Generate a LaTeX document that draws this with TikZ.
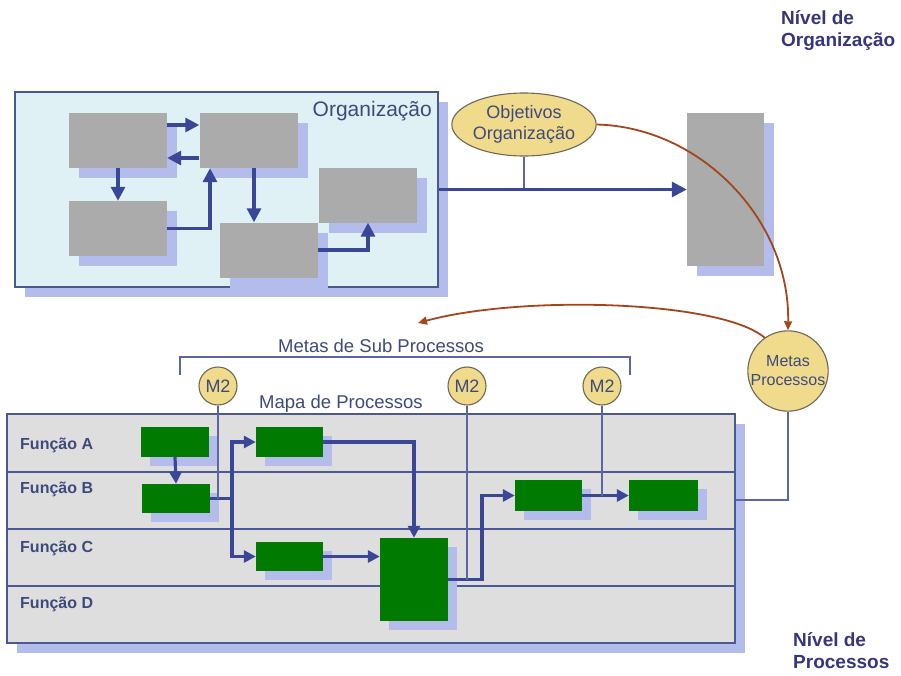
\documentclass[tikz,border=0pt]{standalone}
\usepackage{fontspec}
\setmainfont{Liberation Sans}
\usetikzlibrary{shapes.geometric,shadows,arrows.meta}

\definecolor{orgfill}{HTML}{DFF1F4}
\definecolor{frame}{HTML}{4B5891}
\definecolor{shade}{HTML}{B3BCEA}
\definecolor{boxgray}{HTML}{ABABAB}
\definecolor{flow}{HTML}{3A4796}
\definecolor{mapfill}{HTML}{DEDEDE}
\definecolor{task}{HTML}{007A00}
\definecolor{goal}{HTML}{F0DA8C}
\definecolor{goalline}{HTML}{6F6856}
\definecolor{link}{HTML}{5B66A3}
\definecolor{rust}{HTML}{A2471D}
\definecolor{ink}{HTML}{3F4A7C}
\definecolor{heading}{HTML}{35367E}

\newcommand{\fsz}[1]{\fontsize{#1}{1.2\dimexpr#1pt\relax}\selectfont}

\begin{document}
\begin{tikzpicture}[x=1pt,y=-1pt,
  shadowed/.style={drop shadow={shadow xshift=#1,shadow yshift=-#1,fill=shade,opacity=1}},
  panel/.style={draw=frame,line width=1.3pt,inner sep=0pt,shadowed=10pt},
  graybox/.style={fill=boxgray,inner sep=0pt,minimum width=98pt,minimum height=55pt,shadowed=10pt},
  taskbox/.style={fill=task,inner sep=0pt,shadowed=9pt},
  flowarrow/.style={draw=flow,line width=3.2pt,-{Triangle[length=14pt,width=14pt]}},
  flowline/.style={draw=flow,line width=3.2pt},
  thin/.style={draw=link,line width=1.4pt},
  goalshape/.style={fill=goal,draw=goalline,line width=1.1pt,text=ink,inner sep=0pt},
  feedback/.style={draw=rust,line width=1.8pt,-{Triangle[length=9pt,width=8pt]}},
  lane/.style={text=ink,font=\fsz{16}\bfseries,anchor=base west,inner sep=0pt},
  caption/.style={text=ink,font=\fsz{18.5},inner sep=0pt},
  level/.style={text=heading,font=\fsz{19}\bfseries,align=left,inner sep=0pt,anchor=north west}
]
\useasboundingbox (0,0) rectangle (901,675);

% ---------- organisation level ----------
\node[panel,fill=orgfill,minimum width=423pt,minimum height=195pt] (org) at (226.5,189.5) {};
\node[caption,font=\fsz{21},anchor=base east] (orglabel) at (432,116.5) {Organização};

\node[graybox] (b1) at (118,140.5) {};
\node[graybox] (b2) at (248.5,140.5) {};
\node[graybox] (b3) at (118,228.5) {};
\node[graybox] (b4) at (269,250) {};
\node[graybox] (b5) at (367.5,195) {};

\draw[flowarrow] (b1.east |- 0,125) -- (b2.west |- 0,125);
\draw[flowarrow] (b2.west |- 0,158) -- (b1.east |- 0,158);
\draw[flowarrow] (b1.south) -- (b3.north);
\draw[flowarrow] (b3.east) -| (b2.south -| 210,0);
\draw[flowarrow] (b2.south -| 254,0) -- (b4.north -| 254,0);
\draw[flowarrow] (b4.east) -| (b5.south -| 368,0);

\node[graybox,minimum width=77pt,minimum height=153pt] (bigbox) at (725.5,189.5) {};

\node[goalshape,ellipse,minimum width=132pt,minimum height=63pt,align=center,
      font=\fontsize{18}{21}\selectfont] (obj) at (524,124.5) {Objetivos\\Organização};

\draw[thin,line width=1.6pt] (obj.south) -- (obj.south |- org.east);
\draw[flowarrow,-{Triangle[length=15pt,width=15pt]}] (org.east) -- (bigbox.west);

% ---------- process goals ----------
\node[goalshape,circle,minimum size=66pt,align=center,
      font=\fontsize{16}{19}\selectfont] (mp) at (788,371) {Metas\\Processos};

\draw[feedback] (obj.east) .. controls (700,127) and (790,219) .. (mp.north);
\coordinate (subtip) at (418,323);
\draw[feedback] (mp.125) .. controls (720,300) and (520,295) .. (subtip);

% bracket over the sub-process goals
\draw[thin] (180,375) -- (180,357) -- (630,357) -- (630,375);
\node[caption,anchor=base west] (subgoals) at (278,352.7) {Metas de Sub Processos};

\node[goalshape,circle,minimum size=38pt,font=\fsz{18}] (m2a) at (218,386) {M2};
\node[goalshape,circle,minimum size=38pt,font=\fsz{18}] (m2b) at (467,386) {M2};
\node[goalshape,circle,minimum size=38pt,font=\fsz{18}] (m2c) at (602,386) {M2};

% ---------- process map ----------
\node[caption,anchor=base west] (maplabel) at (259,408) {Mapa de Processos};
\node[panel,fill=mapfill,minimum width=728pt,minimum height=229pt] (pm) at (371,528.5) {};
\foreach \yy in {472,529,586}
  \draw[draw=frame,line width=1.3pt] (pm.west |- 0,\yy) -- (pm.east |- 0,\yy);

\node[lane] (fa) at (20,449) {Função A};
\node[lane] (fb) at (20,493) {Função B};
\node[lane] (fc) at (20,552) {Função C};
\node[lane] (fd) at (20,608) {Função D};

\node[taskbox,minimum width=68pt,minimum height=30pt] (g1) at (175,442) {};
\node[taskbox,minimum width=68pt,minimum height=29pt] (g2) at (176,498.5) {};
\node[taskbox,minimum width=67pt,minimum height=30pt] (g3) at (289.5,442) {};
\node[taskbox,minimum width=67pt,minimum height=29pt] (g4) at (289.5,556.5) {};
\node[taskbox,minimum width=68pt,minimum height=83pt] (g5) at (414,579.5) {};
\node[taskbox,minimum width=67pt,minimum height=31pt] (g6) at (548.5,495.5) {};
\node[taskbox,minimum width=69pt,minimum height=31pt] (g7) at (663.5,495.5) {};

\begin{scope}[flowarrow/.append style={-{Triangle[length=12pt,width=12pt]}}]
\draw[flowarrow] (g1.south) -- (g2.north);
\coordinate (split) at (g2.east -| 232,0);
\draw[flowline] (g2.east) -- (split);
\draw[flowarrow] (split) |- (g3.west);
\draw[flowarrow] (split) |- (g4.west);
\draw[flowarrow] (g3.east) -| (g5.north);
\draw[flowarrow] (g4.east) -- (g5.west |- g4.east);
\draw[flowarrow] (g5.east) -- (g5.east -| 482,0) |- (g6.west);
\draw[flowarrow] (g6.east) -- (g7.west);
\end{scope}

% goal links into the map
\draw[thin] (m2a.south) -- (m2a.south |- g2.east);
\draw[thin] (m2b.south) -- (m2b.south |- g5.east);
\draw[thin] (m2c.south) -- (m2c.south |- g6.east);
\draw[thin] (mp.south) |- (pm.east |- 0,500);

% ---------- level headings ----------
\node[level] (toplevel) at (781,10) {Nível de\\Organização};
\node[level] (bottomlevel) at (793,632) {Nível de\\Processos};
\end{tikzpicture}
\end{document}
